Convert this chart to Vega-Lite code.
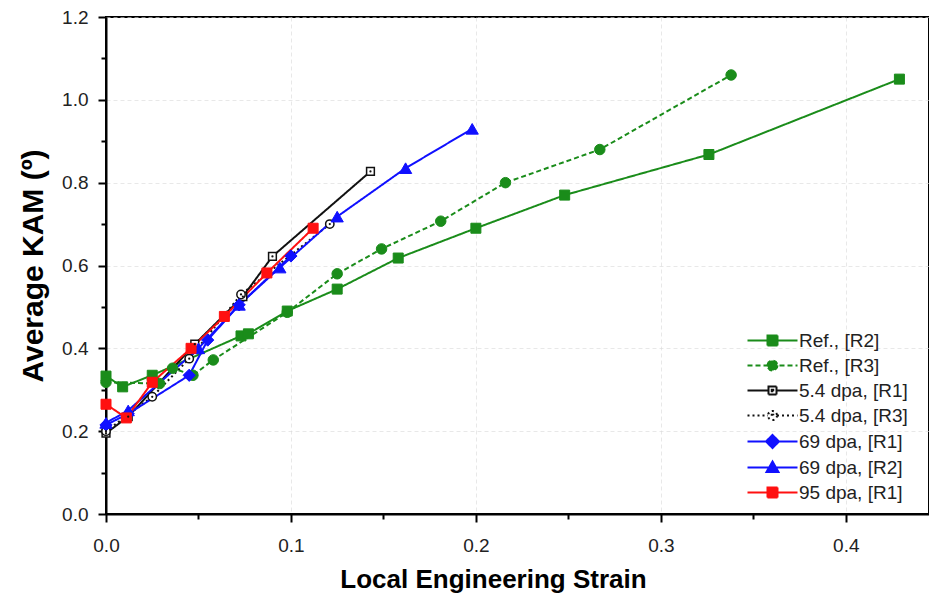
{
  "$schema": "https://vega.github.io/schema/vega-lite/v6.json",
  "width": 823,
  "height": 497,
  "autosize": {"type": "none"},
  "padding": {"left": 106, "top": 17, "right": 0, "bottom": 86},
  "background": "white",
  "config": {
    "view": {"stroke": "black", "strokeWidth": 2},
    "font": "Liberation Sans"
  },
  "data": {
    "values": [
      {"series": "Ref., [R2]", "x": 0, "y": 0.333},
      {"series": "Ref., [R2]", "x": 0.009, "y": 0.307},
      {"series": "Ref., [R2]", "x": 0.025, "y": 0.335},
      {"series": "Ref., [R2]", "x": 0.073, "y": 0.43},
      {"series": "Ref., [R2]", "x": 0.077, "y": 0.435},
      {"series": "Ref., [R2]", "x": 0.098, "y": 0.49},
      {"series": "Ref., [R2]", "x": 0.125, "y": 0.543},
      {"series": "Ref., [R2]", "x": 0.158, "y": 0.618},
      {"series": "Ref., [R2]", "x": 0.2, "y": 0.69},
      {"series": "Ref., [R2]", "x": 0.248, "y": 0.77},
      {"series": "Ref., [R2]", "x": 0.326, "y": 0.868},
      {"series": "Ref., [R2]", "x": 0.429, "y": 1.05},
      {"series": "Ref., [R3]", "x": 0, "y": 0.318},
      {"series": "Ref., [R3]", "x": 0.029, "y": 0.315},
      {"series": "Ref., [R3]", "x": 0.036, "y": 0.352},
      {"series": "Ref., [R3]", "x": 0.047, "y": 0.335},
      {"series": "Ref., [R3]", "x": 0.058, "y": 0.372},
      {"series": "Ref., [R3]", "x": 0.098, "y": 0.487},
      {"series": "Ref., [R3]", "x": 0.125, "y": 0.58},
      {"series": "Ref., [R3]", "x": 0.149, "y": 0.64},
      {"series": "Ref., [R3]", "x": 0.181, "y": 0.707},
      {"series": "Ref., [R3]", "x": 0.216, "y": 0.8},
      {"series": "Ref., [R3]", "x": 0.267, "y": 0.88},
      {"series": "Ref., [R3]", "x": 0.338, "y": 1.06},
      {"series": "5.4 dpa, [R1]", "x": 0, "y": 0.195},
      {"series": "5.4 dpa, [R1]", "x": 0.012, "y": 0.235},
      {"series": "5.4 dpa, [R1]", "x": 0.048, "y": 0.41},
      {"series": "5.4 dpa, [R1]", "x": 0.074, "y": 0.525},
      {"series": "5.4 dpa, [R1]", "x": 0.09, "y": 0.622},
      {"series": "5.4 dpa, [R1]", "x": 0.143, "y": 0.827},
      {"series": "5.4 dpa, [R3]", "x": 0, "y": 0.2},
      {"series": "5.4 dpa, [R3]", "x": 0.025, "y": 0.283},
      {"series": "5.4 dpa, [R3]", "x": 0.045, "y": 0.375},
      {"series": "5.4 dpa, [R3]", "x": 0.073, "y": 0.53},
      {"series": "5.4 dpa, [R3]", "x": 0.121, "y": 0.7},
      {"series": "69 dpa, [R1]", "x": 0, "y": 0.215},
      {"series": "69 dpa, [R1]", "x": 0.012, "y": 0.242},
      {"series": "69 dpa, [R1]", "x": 0.045, "y": 0.335},
      {"series": "69 dpa, [R1]", "x": 0.055, "y": 0.42},
      {"series": "69 dpa, [R1]", "x": 0.072, "y": 0.505},
      {"series": "69 dpa, [R1]", "x": 0.1, "y": 0.623},
      {"series": "69 dpa, [R2]", "x": 0, "y": 0.22},
      {"series": "69 dpa, [R2]", "x": 0.012, "y": 0.25},
      {"series": "69 dpa, [R2]", "x": 0.05, "y": 0.4},
      {"series": "69 dpa, [R2]", "x": 0.072, "y": 0.505},
      {"series": "69 dpa, [R2]", "x": 0.094, "y": 0.595},
      {"series": "69 dpa, [R2]", "x": 0.125, "y": 0.718},
      {"series": "69 dpa, [R2]", "x": 0.162, "y": 0.835},
      {"series": "69 dpa, [R2]", "x": 0.198, "y": 0.93},
      {"series": "95 dpa, [R1]", "x": 0, "y": 0.265},
      {"series": "95 dpa, [R1]", "x": 0.011, "y": 0.232},
      {"series": "95 dpa, [R1]", "x": 0.025, "y": 0.318},
      {"series": "95 dpa, [R1]", "x": 0.046, "y": 0.4},
      {"series": "95 dpa, [R1]", "x": 0.064, "y": 0.477},
      {"series": "95 dpa, [R1]", "x": 0.087, "y": 0.582},
      {"series": "95 dpa, [R1]", "x": 0.112, "y": 0.69}
    ]
  },
  "resolve": {"axis": {"x": "independent", "y": "independent"}},
  "layer": [
    {
      "mark": {"type": "line", "strokeWidth": 2},
      "encoding": {
        "x": {
          "field": "x", "type": "quantitative",
          "scale": {"domain": [0, 0.445], "nice": false, "zero": false},
          "axis": {
            "orient": "bottom",
            "values": [0, 0.1, 0.2, 0.3, 0.4], "format": ".1f",
            "title": "Local Engineering Strain",
            "titleFont": "Liberation Sans", "titleFontSize": 26, "titleFontWeight": "bold", "titleColor": "black",
            "titlePadding": 11, "titleX": 387,
            "labelFont": "Liberation Sans", "labelFontSize": 19, "labelColor": "#222222", "labelPadding": 14, "labelFlush": false,
            "tickSize": 8, "tickWidth": 2, "tickColor": "black",
            "domainColor": "black", "domainWidth": 2,
            "grid": true, "gridColor": "#d8d8d8", "gridDash": [4, 3], "gridWidth": 1, "gridOpacity": 0.6
          }
        },
        "y": {
          "field": "y", "type": "quantitative",
          "scale": {"domain": [0, 1.2], "nice": false, "zero": false},
          "axis": {
            "orient": "left",
            "values": [0, 0.2, 0.4, 0.6, 0.8, 1.0, 1.2], "format": ".1f",
            "title": "Average KAM (º)",
            "titleFont": "Liberation Sans", "titleFontSize": 30, "titleFontWeight": "bold", "titleColor": "black",
            "titlePadding": 13,
            "labelFont": "Liberation Sans", "labelFontSize": 19, "labelColor": "#222222", "labelPadding": 10, "labelFlush": false,
            "tickSize": 8, "tickWidth": 2, "tickColor": "black",
            "domainColor": "black", "domainWidth": 2,
            "grid": true, "gridColor": "#d8d8d8", "gridDash": [4, 3], "gridWidth": 1, "gridOpacity": 0.6
          }
        },
        "color": {
          "field": "series", "type": "nominal",
          "scale": {
            "domain": ["Ref., [R2]", "Ref., [R3]", "5.4 dpa, [R1]", "5.4 dpa, [R3]", "69 dpa, [R1]", "69 dpa, [R2]", "95 dpa, [R1]"],
            "range": ["#1a8c1a", "#1a8c1a", "#111111", "#111111", "#1010ff", "#1010ff", "#ff1010"]
          },
          "legend": {
            "title": null,
            "orient": "none", "legendX": 638, "legendY": 314,
            "padding": 0, "rowPadding": 5,
            "symbolSize": 100, "symbolStrokeWidth": 2, "symbolOffset": 19,
            "labelOffset": 17, "labelFont": "Liberation Sans", "labelFontSize": 19, "labelColor": "#222222", "labelLimit": 300
          }
        },
        "strokeDash": {
          "field": "series", "type": "nominal",
          "scale": {
            "domain": ["Ref., [R2]", "Ref., [R3]", "5.4 dpa, [R1]", "5.4 dpa, [R3]", "69 dpa, [R1]", "69 dpa, [R2]", "95 dpa, [R1]"],
            "range": [[1, 0], [5, 3], [1, 0], [2, 3], [1, 0], [1, 0], [1, 0]]
          },
          "legend": null
        }
      }
    },
    {
      "transform": [{"filter": "datum.series === 'Ref., [R2]'"}],
      "mark": {"type": "point", "shape": "square", "filled": true, "fill": "#1a8c1a", "stroke": "#1a8c1a", "strokeWidth": 1, "size": 100, "opacity": 1},
      "encoding": {
        "x": {
          "field": "x", "type": "quantitative",
          "scale": {"domain": [0, 0.445], "nice": false, "zero": false},
          "axis": {
            "orient": "bottom", "values": [0.05, 0.15, 0.25, 0.35], "labels": false, "title": null,
            "domain": false, "grid": false, "tickSize": 5, "tickWidth": 2, "tickColor": "black"
          }
        },
        "y": {
          "field": "y", "type": "quantitative",
          "scale": {"domain": [0, 1.2], "nice": false, "zero": false},
          "axis": {
            "orient": "left", "values": [0.1, 0.3, 0.5, 0.7, 0.9, 1.1], "labels": false, "title": null,
            "domain": false, "grid": false, "tickSize": 5, "tickWidth": 2, "tickColor": "black"
          }
        }
      }
    },
    {
      "transform": [{"filter": "datum.series === 'Ref., [R3]'"}],
      "mark": {"type": "point", "shape": "circle", "filled": true, "fill": "#1a8c1a", "stroke": "#1a8c1a", "strokeWidth": 1, "size": 110, "opacity": 1},
      "encoding": {
        "x": {"field": "x", "type": "quantitative", "scale": {"domain": [0, 0.445], "nice": false, "zero": false}, "axis": null},
        "y": {"field": "y", "type": "quantitative", "scale": {"domain": [0, 1.2], "nice": false, "zero": false}, "axis": null}
      }
    },
    {
      "transform": [{"filter": "datum.series === '5.4 dpa, [R1]'"}],
      "mark": {"type": "point", "shape": "square", "filled": true, "fill": "white", "stroke": "#111111", "strokeWidth": 1.5, "size": 60, "opacity": 1},
      "encoding": {
        "x": {"field": "x", "type": "quantitative", "scale": {"domain": [0, 0.445], "nice": false, "zero": false}, "axis": null},
        "y": {"field": "y", "type": "quantitative", "scale": {"domain": [0, 1.2], "nice": false, "zero": false}, "axis": null}
      }
    },
    {
      "transform": [{"filter": "datum.series === '5.4 dpa, [R3]'"}],
      "mark": {"type": "point", "shape": "circle", "filled": true, "fill": "white", "stroke": "#111111", "strokeWidth": 1.5, "size": 70, "opacity": 1},
      "encoding": {
        "x": {"field": "x", "type": "quantitative", "scale": {"domain": [0, 0.445], "nice": false, "zero": false}, "axis": null},
        "y": {"field": "y", "type": "quantitative", "scale": {"domain": [0, 1.2], "nice": false, "zero": false}, "axis": null}
      }
    },
    {
      "transform": [{"filter": "datum.series === '69 dpa, [R1]'"}],
      "mark": {"type": "point", "shape": "diamond", "filled": true, "fill": "#1010ff", "stroke": "#1010ff", "strokeWidth": 1, "size": 150, "opacity": 1},
      "encoding": {
        "x": {"field": "x", "type": "quantitative", "scale": {"domain": [0, 0.445], "nice": false, "zero": false}, "axis": null},
        "y": {"field": "y", "type": "quantitative", "scale": {"domain": [0, 1.2], "nice": false, "zero": false}, "axis": null}
      }
    },
    {
      "transform": [{"filter": "datum.series === '69 dpa, [R2]'"}],
      "mark": {"type": "point", "shape": "triangle-up", "filled": true, "fill": "#1010ff", "stroke": "#1010ff", "strokeWidth": 1, "size": 150, "opacity": 1},
      "encoding": {
        "x": {"field": "x", "type": "quantitative", "scale": {"domain": [0, 0.445], "nice": false, "zero": false}, "axis": null},
        "y": {"field": "y", "type": "quantitative", "scale": {"domain": [0, 1.2], "nice": false, "zero": false}, "axis": null}
      }
    },
    {
      "transform": [{"filter": "datum.series === '95 dpa, [R1]'"}],
      "mark": {"type": "point", "shape": "square", "filled": true, "fill": "#ff1010", "stroke": "#ff1010", "strokeWidth": 1, "size": 100, "opacity": 1},
      "encoding": {
        "x": {"field": "x", "type": "quantitative", "scale": {"domain": [0, 0.445], "nice": false, "zero": false}, "axis": null},
        "y": {"field": "y", "type": "quantitative", "scale": {"domain": [0, 1.2], "nice": false, "zero": false}, "axis": null}
      }
    },
    {
      "transform": [{"filter": "indexof(datum.series, '5.4') === 0"}],
      "mark": {"type": "point", "filled": true, "color": "#111111", "size": 5, "opacity": 1},
      "encoding": {
        "x": {"field": "x", "type": "quantitative", "scale": {"domain": [0, 0.445], "nice": false, "zero": false}, "axis": null},
        "y": {"field": "y", "type": "quantitative", "scale": {"domain": [0, 1.2], "nice": false, "zero": false}, "axis": null}
      }
    },
    {
      "transform": [{"filter": "datum.x < 0"}],
      "mark": {"type": "point", "filled": false, "opacity": 1},
      "encoding": {
        "x": {"field": "x", "type": "quantitative", "scale": {"domain": [0, 0.445], "nice": false, "zero": false}, "axis": null},
        "y": {"field": "y", "type": "quantitative", "scale": {"domain": [0, 1.2], "nice": false, "zero": false}, "axis": null},
        "shape": {
          "field": "series", "type": "nominal",
          "scale": {
            "domain": ["Ref., [R2]", "Ref., [R3]", "5.4 dpa, [R1]", "5.4 dpa, [R3]", "69 dpa, [R1]", "69 dpa, [R2]", "95 dpa, [R1]"],
            "range": [
              "M-5,0L5,0M-1,-1L1,-1L1,1L-1,1Z",
              "M-5,0L5,0M1,0A1,1,0,1,1,-1,0A1,1,0,1,1,1,0Z",
              "M-5,0L-0.8,0M0.8,0L5,0M-0.8,-0.8L0.8,-0.8L0.8,0.8L-0.8,0.8ZM-0.15,-0.15L0.15,-0.15L0.15,0.15L-0.15,0.15Z",
              "M-5,0L-0.9,0M0.9,0L5,0M0.9,0A0.9,0.9,0,1,1,-0.9,0A0.9,0.9,0,1,1,0.9,0ZM-0.15,-0.15L0.15,-0.15L0.15,0.15L-0.15,0.15Z",
              "M-5,0L5,0M0,-1.3L1.3,0L0,1.3L-1.3,0Z",
              "M-5,0L5,0M0,-1.2L1.2,0.9L-1.2,0.9Z",
              "M-5,0L5,0M-1,-1L1,-1L1,1L-1,1Z"
            ]
          },
          "legend": null
        },
        "fill": {
          "field": "series", "type": "nominal",
          "scale": {
            "domain": ["Ref., [R2]", "Ref., [R3]", "5.4 dpa, [R1]", "5.4 dpa, [R3]", "69 dpa, [R1]", "69 dpa, [R2]", "95 dpa, [R1]"],
            "range": ["#1a8c1a", "#1a8c1a", "white", "white", "#1010ff", "#1010ff", "#ff1010"]
          },
          "legend": null
        }
      }
    }
  ]
}
